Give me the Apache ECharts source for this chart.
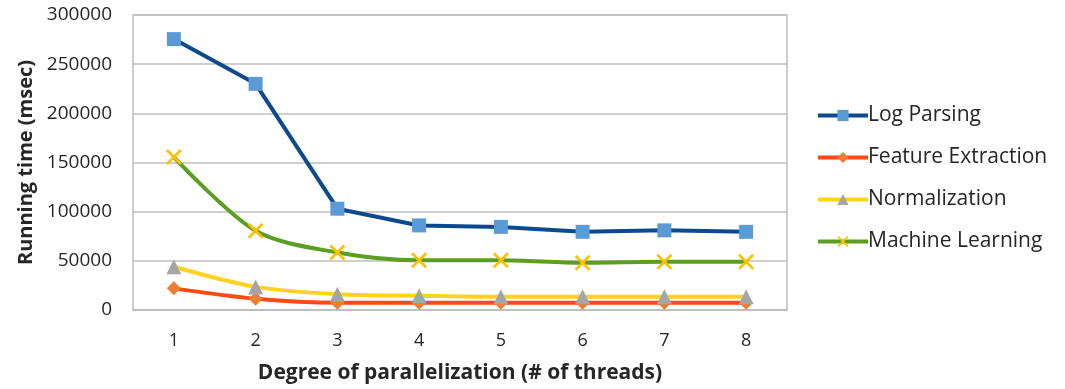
<!DOCTYPE html>
<html>
<head>
<meta charset="utf-8">
<script src="https://cdn.jsdelivr.net/npm/echarts@6/dist/echarts.min.js"></script>
<style>
  html, body { margin: 0; padding: 0; background: #ffffff; }
  #chart { width: 1065px; height: 389px; }
</style>
</head>
<body>
<div id="chart"></div>
<script>
// Running time per pipeline stage vs. number of threads
const threads = ['1', '2', '3', '4', '5', '6', '7', '8'];
const logParsing = [275500, 230000, 103000, 86000, 84500, 79500, 81000, 79500];
const featureExtraction = [22000, 11500, 7500, 7500, 7500, 7500, 7500, 7500];
const normalization = [44000, 23500, 16000, 14500, 13500, 13500, 13500, 13500];
const machineLearning = [155500, 80500, 58500, 50500, 50500, 48000, 49000, 49000];
const yTicks = { min: 0, max: 300000, interval: 50000 };

const FONT = 'Open Sans';
const TEXT = '#262626';
const GRID = '#bfbfbf';
const CROSS = 'path://M0,1.2L1.2,0L10,8.8L8.8,10Z M8.8,0L10,1.2L1.2,10L0,8.8Z';

function lineSeries(name, data, lineColor, symbol, symbolColor, symbolSize, smooth) {
  return {
    name: name,
    type: 'line',
    data: data,
    smooth: smooth,
    symbol: symbol,
    symbolSize: symbolSize,
    showAllSymbol: true,
    lineStyle: { color: lineColor, width: 4 },
    itemStyle: { color: symbolColor, borderWidth: 0 },
    emphasis: { disabled: true },
    z: 2
  };
}

const chart = echarts.init(document.getElementById('chart'), null, { renderer: 'canvas' });
chart.setOption({
  animation: false,
  backgroundColor: '#ffffff',
  textStyle: { fontFamily: FONT },
  grid: {
    left: 133, right: 278, top: 15, bottom: 79,
    show: true, borderColor: GRID, borderWidth: 1.5,
    containLabel: false, outerBoundsMode: 'none'
  },
  legend: {
    orient: 'vertical',
    left: 811,
    top: 100,
    itemGap: 21,
    itemWidth: 50,
    itemHeight: 14,
    lineStyle: { width: 4 },
    textStyle: { fontFamily: FONT, fontSize: 21, color: TEXT, padding: [0, 0, 0, -5] },
    data: ['Log Parsing', 'Feature Extraction', 'Normalization', 'Machine Learning']
  },
  xAxis: {
    type: 'category',
    data: threads,
    boundaryGap: true,
    name: 'Degree of parallelization (# of threads)',
    nameLocation: 'middle',
    nameGap: 53,
    nameTextStyle: { fontFamily: FONT, fontSize: 21, fontWeight: 'bold', color: TEXT },
    axisLine: { show: true, lineStyle: { color: GRID, width: 1.5 } },
    axisTick: { show: false },
    axisLabel: { margin: 22, fontSize: 18, color: TEXT, fontFamily: FONT },
    splitLine: { show: false }
  },
  yAxis: {
    type: 'value',
    min: yTicks.min,
    max: yTicks.max,
    interval: yTicks.interval,
    name: 'Running time (msec)',
    nameLocation: 'middle',
    nameGap: 95,
    nameTextStyle: { fontFamily: FONT, fontSize: 20, fontWeight: 'bold', color: TEXT },
    axisLine: { show: false },
    axisTick: { show: false },
    axisLabel: {
      margin: 21, fontSize: 19, color: TEXT, fontFamily: FONT,
      formatter: function (v) { return String(v); }
    },
    splitLine: { show: true, lineStyle: { color: GRID, width: 1.5 } }
  },
  series: [
    lineSeries('Log Parsing', logParsing, '#0d4a8c', 'rect', '#5b9bd5', 14, false),
    lineSeries('Feature Extraction', featureExtraction, '#ff4a14', 'diamond', '#ed7d31', 14, 0.3),
    lineSeries('Normalization', normalization, '#ffd21f', 'triangle', '#a5a5a5', 15, 0.3),
    lineSeries('Machine Learning', machineLearning, '#5a9e22', CROSS, '#ffc000', 16, 0.3)
  ]
});
</script>
</body>
</html>
